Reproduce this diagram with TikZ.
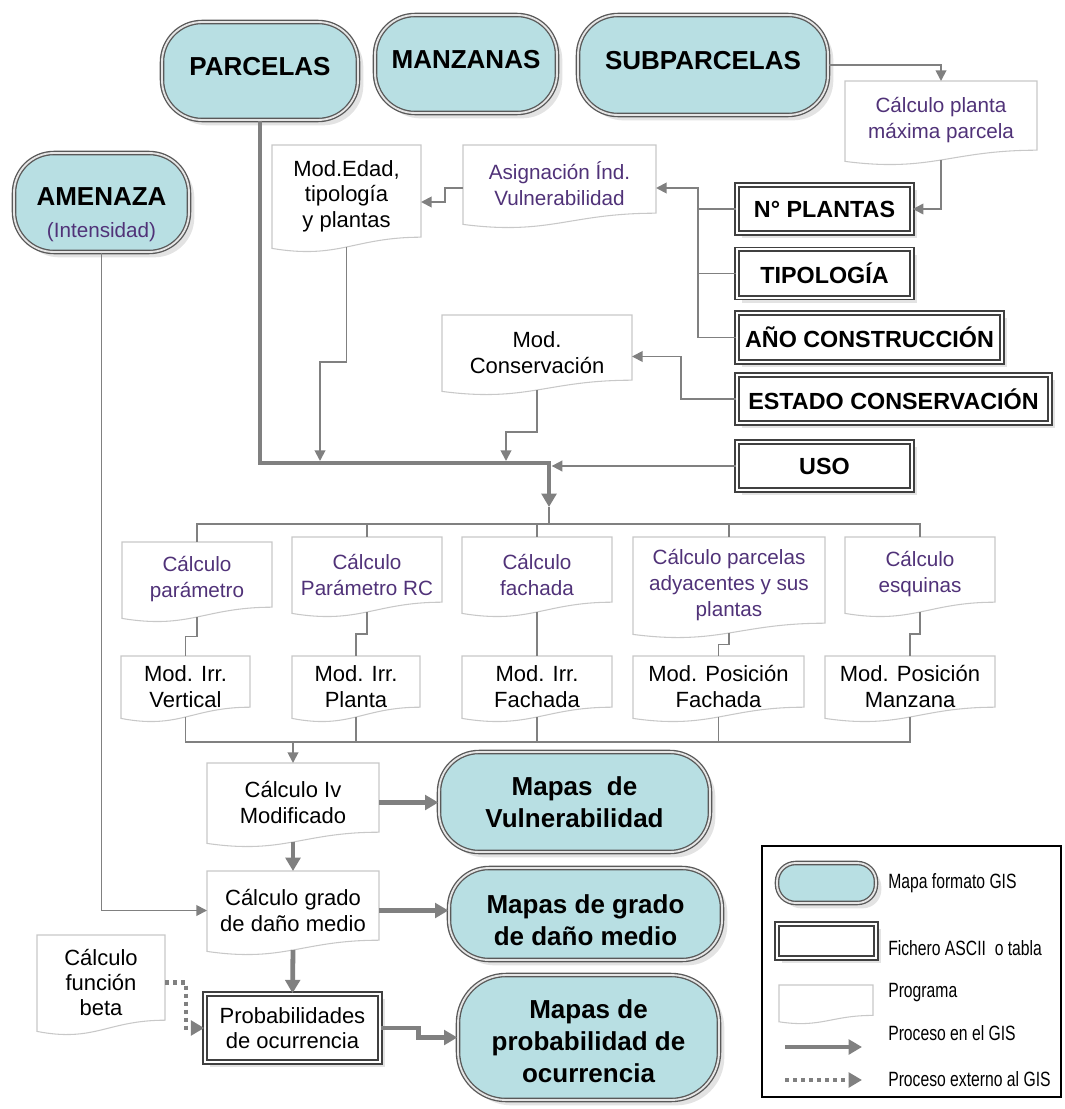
\documentclass[tikz,border=0pt]{standalone}
\usepackage{fontspec}
\setmainfont{Liberation Sans}
\newfontfamily\legfont[FakeStretch=0.76]{Liberation Sans}
\usetikzlibrary{arrows.meta,calc,shadows}

\definecolor{mapfill}{RGB}{184,223,227}
\definecolor{flowgray}{RGB}{128,128,128}
\definecolor{progtxt}{RGB}{80,50,120}
\definecolor{progedge}{RGB}{200,200,200}

\newcommand{\fmap}{\fontsize{19.5}{24}\selectfont\bfseries}
\newcommand{\fascii}{\fontsize{17.5}{20}\selectfont\bfseries}
\newcommand{\fprog}{\fontsize{15.5}{19.5}\selectfont\mdseries}
\newcommand{\fmod}{\fontsize{16.5}{19}\selectfont}
\newcommand{\fleg}{\fontsize{15.5}{17}\legfont}

\begin{document}
\begin{tikzpicture}[x=0.75pt, y=0.75pt]
	
	\tikzset{
		map/.style={draw=black!65, double=white!80!gray, double distance=1.4pt, line width=1pt,
			fill=mapfill, rounded corners=30pt, align=center, inner sep=0pt, font=\fmap,
			drop shadow={shadow xshift=4pt, shadow yshift=-4pt, fill=black!22}},
		ascii/.style={draw=black!75, double=white, double distance=1.5pt, line width=1.2pt,
			fill=white, align=center, inner sep=0pt, font=\fascii,
			drop shadow={shadow xshift=4pt, shadow yshift=-4pt, fill=black!22}},
		prog/.style={draw=none, inner sep=0pt, outer sep=0pt, align=center, font=\fprog, text=progtxt},
		progk/.style={prog, font=\fmod, text=black},
		progbox/.style={draw=progedge, line width=0.8pt},
		link/.style={draw=flowgray, line width=1.4pt},
		flow/.style={link, -{Triangle[length=8pt,width=8pt]}},
		gisflow/.style={draw=flowgray, line width=3.6pt, -{Triangle[length=10pt,width=11pt]}},
		extflow/.style={gisflow, dash pattern=on 3pt off 3pt},
		legtxt/.style={anchor=west, inner sep=0pt, font=\fleg},
		legframe/.style={draw=black, line width=0.8pt}
	}
	
	% ---------------------------
	% Helper macro: outline of a program box with a wavy bottom
	% (#1 node name, #2 depth of the wave)
	% ---------------------------
	\newcommand{\progline}[2]{%
		\draw[progbox] (#1.north west) -- (#1.north east)
		-- ($(#1.south east)+(0,0.7*#2)$)
		.. controls ($(#1.south east)!0.45!(#1.south west)+(0,0.7*#2)$)
		and ($(#1.south west)!0.45!(#1.south east)+(0,-0.9*#2)$)
		.. ($(#1.south west)+(0,-0.1*#2)$) -- cycle;
	}
	
	\useasboundingbox (0,0) rectangle (1064,-1109);
	
	% ---------------------------
	% GIS maps (input)
	% ---------------------------
	\node[map, minimum width=147pt, minimum height=73.5pt, text depth=7.5pt] (parcelas) at (260,-71) {PARCELAS};
	\node[map, minimum width=136.5pt, minimum height=73.5pt, text depth=7.5pt] (manz) at (466,-64) {MANZANAS};
	\node[map, minimum width=187.5pt, minimum height=75pt, text depth=7.5pt] (subp) at (703,-65) {SUBPARCELAS};
	\node[map, minimum width=131.25pt, minimum height=74.25pt, text height=55pt] (amen) at (101.5,-202.5)
		{AMENAZA\\{\fprog\color{progtxt}(Intensidad)}};
	
	% ---------------------------
	% ASCII files
	% ---------------------------
	\node[ascii, minimum width=131.25pt, minimum height=36pt] (npl) at (824.5,-209) {N° PLANTAS};
	\node[ascii, minimum width=131.25pt, minimum height=36pt] (tipo) at (824.5,-273.5) {TIPOLOGÍA};
	\node[ascii, minimum width=198.75pt, minimum height=36.75pt] (anio) at (869.5,-337.5) {AÑO CONSTRUCCIÓN};
	\node[ascii, minimum width=234.75pt, minimum height=36pt] (estado) at (893.5,-399) {ESTADO CONSERVACIÓN};
	\node[ascii, minimum width=131.25pt, minimum height=36pt] (uso) at (824.5,-466) {USO};
	
	% ---------------------------
	% Programs
	% ---------------------------
	\node[prog, minimum width=144pt, minimum height=59.25pt] (cplanta) at (941,-120.5) {Cálculo planta\\máxima parcela};
	\node[prog, minimum width=144.75pt, minimum height=58.5pt] (asig) at (559.5,-184) {Asignación Índ.\\Vulnerabilidad};
	\node[progk, minimum width=111.75pt, minimum height=76.5pt] (medad) at (346.5,-196) {Mod.Edad,\\tipología\\y plantas};
	\node[progk, minimum width=142.5pt, minimum height=56.25pt] (mcons) at (537,-352.5) {Mod.\\Conservación};
	
	\node[prog, minimum width=112.5pt, minimum height=56.25pt] (cpar) at (197,-579.5) {Cálculo\\parámetro};
	\node[prog, minimum width=112.5pt, minimum height=56.25pt] (crc) at (367,-574.5) {Cálculo\\Parámetro RC};
	\node[prog, minimum width=112.5pt, minimum height=56.25pt] (cfach) at (537,-574.5) {Cálculo\\fachada};
	\node[prog, minimum width=144pt, minimum height=72pt] (cady) at (729,-585) {Cálculo parcelas\\adyacentes y sus\\plantas};
	\node[prog, minimum width=112.5pt, minimum height=56.25pt] (cesq) at (920,-574.5) {Cálculo\\esquinas};
	
	\node[progk, minimum width=96.75pt, minimum height=45.75pt] (mvert) at (185.5,-686.5) {Mod. Irr.\\Vertical};
	\node[progk, minimum width=96pt, minimum height=45.75pt] (mplan) at (356,-686.5) {Mod. Irr.\\Planta};
	\node[progk, minimum width=112.5pt, minimum height=45.75pt] (mifach) at (537,-686.5) {Mod. Irr.\\Fachada};
	\node[progk, minimum width=128.25pt, minimum height=45.75pt] (mpfach) at (718.5,-686.5) {Mod. Posición\\Fachada};
	\node[progk, minimum width=127.5pt, minimum height=45.75pt] (mpman) at (910,-686.5) {Mod. Posición\\Manzana};
	
	\node[progk, minimum width=129pt, minimum height=59.25pt] (civ) at (293,-802.5) {Cálculo Iv\\Modificado};
	\node[progk, minimum width=129pt, minimum height=59.25pt] (cgrado) at (293,-910.5) {Cálculo grado\\de daño medio};
	\node[progk, minimum width=96pt, minimum height=71.25pt] (cbeta) at (101,-982.5) {Cálculo\\función\\beta};
	\node[ascii, font=\fmod, minimum width=131.25pt, minimum height=51pt] (prob) at (292.5,-1028) {Probabilidades\\de ocurrencia};
	
	\foreach \n in {cplanta,asig,medad,mcons,cpar,crc,cfach,cady,cesq,mvert,mplan,mifach,mpfach,mpman,civ,cgrado,cbeta}
	{
		\progline{\n}{14}
	}
	
	% ---------------------------
	% GIS maps (output)
	% ---------------------------
	\node[map, minimum width=203.25pt, minimum height=75pt] (mvul) at (574.5,-802) {Mapas\ \ de\\Vulnerabilidad};
	\node[map, minimum width=204.75pt, minimum height=69pt, text height=47pt] (mgrado) at (585.5,-914) {Mapas de grado\\de daño medio};
	\node[map, minimum width=195.75pt, minimum height=93.75pt, rounded corners=36pt, text height=67pt] (mprob) at (588.5,-1037.5) {Mapas de\\probabilidad de\\ocurrencia};
	
	% ---------------------------
	% Connectors
	% ---------------------------
	\coordinate (trunk) at (698,-188);
	\coordinate (join) at (549,-463);
	\coordinate (split) at (549,-507);
	\coordinate (inA) at (320,-461);
	\coordinate (inB) at (506,-461);
	\coordinate (merge) at (293,-742);
	
	\draw[flow] (subp.east) -| (cplanta.north);
	\draw[flow] (cplanta.south) |- (npl.east);
	\draw[flow] (anio.west) -| (trunk) -- (trunk -| asig.east);
	\draw[link] (npl.west) -- (npl.west -| trunk);
	\draw[link] (tipo.west) -- (tipo.west -| trunk);
	\draw[flow] ($(asig.west)+(0,-4)$) -- ++(-18,0) |- ($(medad.east)+(0,-6)$);
	\draw[flow] (estado.west) -- ++(-55,0) |- ($(mcons.east)+(0,-4)$);
	
	\draw[gisflow] (parcelas.south) |- (join) -- (split);
	\draw[flow] (medad.south) -- ++(0,-115) -| (inA);
	\draw[flow] (mcons.south) -- ++(0,-42) -| (inB);
	\draw[flow, shorten >=2pt] (uso.west) -- (uso.west -| join);
	
	\foreach \c in {cpar,crc,cfach,cady,cesq}
	{
		\draw[link] (split) -- ++(0,-17) -| (\c.north);
	}
	\foreach \a/\b in {cpar/mvert,crc/mplan,cfach/mifach,cady/mpfach,cesq/mpman}
	{
		\draw[link] (\a.south) |- ($(\a.south)!0.5!(\b.north)$) -| (\b.north);
	}
	\foreach \m in {mvert,mplan,mifach,mpfach,mpman}
	{
		\draw[link] (\m.south) |- (merge);
	}
	\draw[flow] (merge) -- (civ.north);
	
	\draw[gisflow] (civ.east) -- (civ.east -| mvul.west);
	\draw[gisflow] (civ.south) -- (cgrado.north);
	\draw[flow] (amen.south) |- (cgrado.west);
	\draw[gisflow] (cgrado.east) -- (cgrado.east -| mgrado.west);
	\draw[gisflow] (cgrado.south) -- (prob.north);
	\draw[extflow] (cbeta.east) -- ++(21,0) |- (prob.west);
	\draw[gisflow] (prob.east) -- ++(38,0) |- (mprob.west);
	
	% ---------------------------
	% Legend
	% ---------------------------
	\node[legframe, minimum width=224.25pt, minimum height=188.25pt] (leg) at (911.5,-971.5) {};
	\node[map, minimum width=74.25pt, minimum height=30pt, rounded corners=14pt] (lmap) at (826.5,-883) {};
	\node[ascii, minimum width=74.25pt, minimum height=25.5pt] (lasc) at (826.5,-941) {};
	\node[prog, minimum width=70.5pt, minimum height=27pt] (lprog) at (826,-1003) {};
	\progline{lprog}{8}
	\coordinate (lg1) at (785,-1047);
	\coordinate (lg2) at (862,-1047);
	\coordinate (lg3) at (785,-1080);
	\coordinate (lg4) at (862,-1080);
	\draw[gisflow] (lg1) -- (lg2);
	\draw[extflow] (lg3) -- (lg4);
	
	\node[legtxt] (lmapt) at (888,-883) {Mapa formato GIS};
	\node[legtxt] (lasct) at (888,-948) {Fichero ASCII\ \ o tabla};
	\node[legtxt] (lprogt) at (888,-993) {Programa};
	\node[legtxt] (lgist) at (888,-1033) {Proceso en el GIS};
	\node[legtxt] (lextt) at (888,-1079) {Proceso externo al GIS};
	
\end{tikzpicture}
\end{document}
